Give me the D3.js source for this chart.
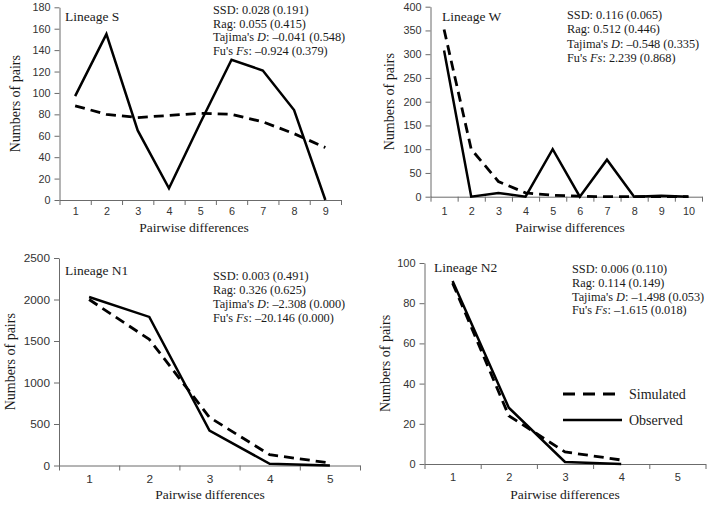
<!DOCTYPE html>
<html><head><meta charset="utf-8">
<script src="https://cdn.jsdelivr.net/npm/d3@7"></script>
<style>
html,body{margin:0;padding:0;background:#fff;}
svg text{fill:#1a1a1a;}
.serif{font-family:"Liberation Serif","Times New Roman",serif;}
.tick text{font-family:"Liberation Sans",Arial,sans-serif;fill:#333;}
</style>
</head><body>
<svg id="c" width="709" height="505"></svg>
<script>
// ---------- data ----------
const diffsS = [1,2,3,4,5,6,7,8,9];
const observedS = [97,155,65,11,72,131,121,84,0];
const simulatedS = [88,80,77,79,81,80,73,62,49];
const yTicksS = [0,20,40,60,80,100,120,140,160,180];

const diffsW = [1,2,3,4,5,6,7,8,9,10];
const observedW = [308,0,8,0,100,0,78,0,2,0];
const simulatedW = [352,100,32,8,3,1,0,0,0,0];
const yTicksW = [0,50,100,150,200,250,300,350,400];

const diffsN1 = [1,2,3,4,5];
const observedN1 = [2030,1790,420,20,0];
const simulatedN1 = [2000,1520,580,130,30];
const yTicksN1 = [0,500,1000,1500,2000,2500];

const diffsN2 = [1,2,3,4,5];
const observedN2 = [91,28,1,0];
const simulatedN2 = [90,24,6,2];
const yTicksN2 = [0,20,40,60,80,100];

const statsS  = [["SSD: ","","","0.028 (0.191)"],["Rag: ","","","0.055 (0.415)"],["Tajima's ","D",": ","\u20130.041 (0.548)"],["Fu's ","Fs",": ","\u20130.924 (0.379)"]];
const statsW  = [["SSD: ","","","0.116 (0.065)"],["Rag: ","","","0.512 (0.446)"],["Tajima's ","D",": ","\u20130.548 (0.335)"],["Fu's ","Fs",": ","2.239 (0.868)"]];
const statsN1 = [["SSD: ","","","0.003 (0.491)"],["Rag: ","","","0.326 (0.625)"],["Tajima's ","D",": ","\u20132.308 (0.000)"],["Fu's ","Fs",": ","\u201320.146 (0.000)"]];
const statsN2 = [["SSD: ","","","0.006 (0.110)"],["Rag: ","","","0.114 (0.149)"],["Tajima's ","D",": ","\u20131.498 (0.053)"],["Fu's ","Fs",": ","\u20131.615 (0.018)"]];

const legendLabels = ["Simulated","Observed"];
const xTitle = "Pairwise differences";
const yTitle = "Numbers of pairs";

// ---------- layout ----------
const panels = [
  {name:"Lineage S", cats:diffsS, obs:observedS, sim:simulatedS, yt:yTicksS, stats:statsS,
   x0:59.5, x1:341, yTop:7.3, yBot:200, nameX:65, nameY:21, statX:213, statY:14, statDy:13.6,
   xLabY:212, xTitleX:194, xTitleY:232, yTitleX:15, tickFs:10.8},
  {name:"Lineage W", cats:diffsW, obs:observedW, sim:simulatedW, yt:yTicksW, stats:statsW,
   x0:430.5, x1:702, yTop:6.7, yBot:196.7, nameX:442, nameY:21, statX:567, statY:19, statDy:14.4,
   xLabY:212, xTitleX:570, xTitleY:232, yTitleX:389, tickFs:10.8},
  {name:"Lineage N1", cats:diffsN1, obs:observedN1, sim:simulatedN1, yt:yTicksN1, stats:statsN1,
   x0:59, x1:360, yTop:258, yBot:465.5, nameX:65, nameY:275, statX:213, statY:280, statDy:14,
   xLabY:480, xTitleX:210, xTitleY:499, yTitleX:10, tickFs:11.8},
  {name:"Lineage N2", cats:diffsN2, obs:observedN2, sim:simulatedN2, yt:yTicksN2, stats:statsN2,
   x0:424.5, x1:705.5, yTop:263, yBot:464, nameX:434, nameY:272, statX:572, statY:273, statDy:13.8,
   xLabY:478, xTitleX:565, xTitleY:499, yTitleX:385, tickFs:11}
];

const svg = d3.select("#c");
const axisCol = "#6b6b6b";

panels.forEach(p => {
  const n = p.cats.length;
  const x = d3.scaleLinear().domain([0.5, n + 0.5]).range([p.x0, p.x1]);
  const y = d3.scaleLinear().domain([0, d3.max(p.yt)]).range([p.yBot, p.yTop]);
  const g = svg.append("g");

  // y axis
  const ya = g.append("g").attr("transform", `translate(${p.x0},0)`)
    .call(d3.axisLeft(y).tickValues(p.yt).tickSize(5).tickSizeOuter(0).tickPadding(4).tickFormat(d3.format("d")));
  ya.select(".domain").attr("stroke", axisCol);
  ya.selectAll(".tick line").attr("stroke", axisCol);
  ya.selectAll(".tick text").style("font-size", p.tickFs + "px");

  // x axis: boundary ticks
  const bounds = d3.range(0, n + 1).map(i => i + 0.5);
  const xa = g.append("g").attr("transform", `translate(0,${p.yBot})`)
    .call(d3.axisBottom(x).tickValues(bounds).tickSize(5).tickSizeOuter(0).tickFormat(""));
  xa.select(".domain").attr("stroke", axisCol);
  xa.selectAll(".tick line").attr("stroke", axisCol);
  // x labels at centers (xLabY = visual centre of the label)
  const xl = g.append("g").attr("transform", `translate(0,${p.yBot})`)
    .call(d3.axisBottom(x).tickValues(p.cats).tickSize(0).tickPadding(p.xLabY - p.yBot - 5).tickFormat(d3.format("d")));
  xl.select(".domain").remove();
  xl.selectAll(".tick text").style("font-size", p.tickFs + "px");

  // titles
  g.append("text").attr("class","serif").attr("x", p.xTitleX).attr("y", p.xTitleY)
    .attr("text-anchor","middle").attr("font-size", 13.5).text(xTitle);
  g.append("text").attr("class","serif")
    .attr("transform", `translate(${p.yTitleX},${(p.yTop + p.yBot) / 2}) rotate(-90)`)
    .attr("text-anchor","middle").attr("dy","0.35em").attr("font-size", 14).text(yTitle);

  // lines
  const line = d3.line().x((d, i) => x(p.cats[i])).y(d => y(d)).curve(d3.curveLinear);
  g.append("path").datum(p.sim).attr("d", line).attr("fill","none").attr("stroke","#000")
    .attr("stroke-width", 2.8).attr("stroke-dasharray","10,6").attr("stroke-linejoin","miter");
  g.append("path").datum(p.obs).attr("d", line).attr("fill","none").attr("stroke","#000")
    .attr("stroke-width", 2.5).attr("stroke-linejoin","miter");

  // name
  g.append("text").attr("class","serif").attr("x", p.nameX).attr("y", p.nameY)
    .attr("font-size", 13.5).text(p.name);

  // stats
  p.stats.forEach((s, i) => {
    const t = g.append("text").attr("class","serif").attr("x", p.statX)
      .attr("y", p.statY + i * p.statDy).attr("font-size", 12.3);
    t.append("tspan").text(s[0]);
    if (s[1]) t.append("tspan").attr("font-style","italic").text(s[1]);
    if (s[2]) t.append("tspan").text(s[2]);
    t.append("tspan").text(s[3]);
  });
});

// legend
const lg = svg.append("g");
const legY = [394, 420];
lg.append("line").attr("x1",563).attr("x2",617).attr("y1",legY[0]).attr("y2",legY[0])
  .attr("stroke","#000").attr("stroke-width",2.8).attr("stroke-dasharray","12,8");
lg.append("line").attr("x1",563).attr("x2",622).attr("y1",legY[1]).attr("y2",legY[1])
  .attr("stroke","#000").attr("stroke-width",2.5);
legendLabels.forEach((l, i) => {
  lg.append("text").attr("class","serif").attr("x",629).attr("y",legY[i]).attr("dy","0.35em")
    .attr("font-size",14).text(l);
});
</script>
</body></html>
